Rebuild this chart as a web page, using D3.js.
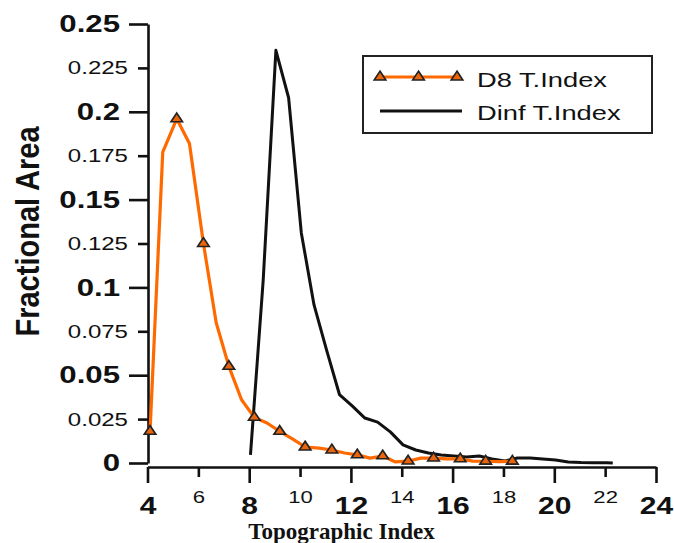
<!DOCTYPE html>
<html>
<head>
<meta charset="utf-8">
<script src="https://cdn.jsdelivr.net/npm/d3@7"></script>
<style>
body{margin:0;background:#fff}
svg{display:block}
</style>
</head>
<body>
<div id="chart-area"></div>
<script>

// D8 topographic index (orange, markers on every other point)
var d8X = [4.1,4.6,5.15,5.65,6.2,6.7,7.2,7.7,8.2,8.7,9.2,9.7,10.2,10.75,11.25,11.75,12.25,12.75,13.25,13.75,14.25,14.75,15.25,15.75,16.3,16.8,17.3,17.8,18.35];
var d8Y = [0.018,0.177,0.196,0.182,0.125,0.080,0.055,0.036,0.026,0.0228,0.018,0.0137,0.0091,0.0085,0.0074,0.0057,0.0046,0.0028,0.004,0.0006,0.0011,0.0028,0.0028,0.0023,0.0023,0.0011,0.001,0.0008,0.001];

// Dinf topographic index (black)
var dinfX = [8.05,8.55,9.05,9.55,10.05,10.55,11.05,11.55,12.05,12.55,13.05,13.55,14.05,14.55,15.05,15.55,16.05,16.55,17.05,17.55,18.05,18.55,19.05,19.55,20.05,20.55,21.05,21.55,22.05,22.3];
var dinfY = [0.0046,0.104,0.235,0.208,0.131,0.09,0.064,0.039,0.0325,0.0256,0.0233,0.0177,0.0103,0.0074,0.0057,0.0046,0.004,0.0034,0.004,0.0023,0.0011,0.0028,0.0028,0.0023,0.0017,0.0006,0.0003,0.0002,0.0001,0];

var xTicks = [4,6,8,10,12,14,16,18,20,22,24];
var xTickLabels = ['4','6','8','10','12','14','16','18','20','22','24'];
var yTicks = [0,0.025,0.05,0.075,0.1,0.125,0.15,0.175,0.2,0.225,0.25];
var yTickLabels = ['0','0.025','0.05','0.075','0.1','0.125','0.15','0.175','0.2','0.225','0.25'];

var seriesNames = ['D8 T.Index','Dinf T.Index'];

var svgWidth = 674;
var svgHeight = 543;
var sans = "'Liberation Sans', Arial, sans-serif";
var orange = '#ff6a00';

var svg = d3.select('#chart-area')
            .append('svg')
            .attr('width',svgWidth)
            .attr('height',svgHeight);

var x = d3.scaleLinear().domain([4,24]).range([147.5,656]);
var y = d3.scaleLinear().domain([0,0.25]).range([463,24]);

// Y axis
var yAxis = d3.axisLeft(y)
              .tickValues(yTicks)
              .tickSize(19)
              .tickSizeOuter(0)
              .tickFormat((d,i)=>yTickLabels[i]);

var gy = svg.append('g')
            .attr('transform','translate(148,0)')
            .call(yAxis);

gy.select('.domain').attr('stroke','#111').attr('stroke-width',2.6);
gy.selectAll('.tick line')
  .attr('stroke','#111')
  .attr('stroke-width',2.6)
  .attr('x2',(d,i)=> i%2 ? -10 : -19);
gy.selectAll('.tick text')
  .attr('x',0)
  .attr('fill','#111')
  .attr('transform',(d,i)=> i%2 ? 'translate(-20,0) scale(1.3,1)' : 'translate(-28,0) scale(1.3,1)')
  .style('font-family',sans)
  .style('font-size',(d,i)=> i%2 ? '18.5px' : '24px')
  .style('font-weight',(d,i)=> i%2 ? 'normal' : 'bold');

// X axis
var xAxis = d3.axisBottom(x)
              .tickValues(xTicks)
              .tickSize(16)
              .tickSizeOuter(0)
              .tickFormat((d,i)=>xTickLabels[i]);

var gx = svg.append('g')
            .attr('transform','translate(0,467)')
            .call(xAxis);

gx.select('.domain').attr('stroke','#111').attr('stroke-width',2.6);
gx.selectAll('.tick line')
  .attr('stroke','#111')
  .attr('stroke-width',2.6)
  .attr('y2',(d,i)=> i%2 ? 10 : 16);
gx.selectAll('.tick text')
  .attr('dy',0)
  .attr('y',(d,i)=> i%2 ? 36 : 47.5)
  .attr('fill','#111')
  .attr('transform',(d,i)=> i%2 ? 'scale(1.3,1)' : 'scale(1.25,1)')
  .style('font-family',sans)
  .style('font-size',(d,i)=> i%2 ? '17px' : '24px')
  .style('font-weight',(d,i)=> i%2 ? 'normal' : 'bold');

// axis titles
svg.append('text')
   .attr('transform','translate(39,231.5) scale(1.15,1) rotate(-90)')
   .attr('text-anchor','middle')
   .style('font-family',sans)
   .style('font-weight','bold')
   .style('font-size','29px')
   .attr('fill','#111')
   .text('Fractional Area');

svg.append('text')
   .attr('x',341.5)
   .attr('y',539)
   .attr('text-anchor','middle')
   .style('font-family',"'Liberation Serif', 'Times New Roman', serif")
   .style('font-weight','bold')
   .style('font-size','23px')
   .attr('fill','#111')
   .text('Topographic Index');

// lines
var d8Data = d8X.map((v,i)=>({x:v,y:d8Y[i]}));
var dinfData = dinfX.map((v,i)=>({x:v,y:dinfY[i]}));

var line = d3.line().x(d=>x(d.x)).y(d=>y(d.y));

svg.append('path')
   .datum(dinfData)
   .attr('d',line)
   .attr('fill','none')
   .attr('stroke','#111')
   .attr('stroke-width',3)
   .attr('stroke-linejoin','round');

svg.append('path')
   .datum(d8Data)
   .attr('d',line)
   .attr('fill','none')
   .attr('stroke',orange)
   .attr('stroke-width',3.2)
   .attr('stroke-linejoin','round');

var tri = d3.symbol().type(d3.symbolTriangle).size(48);

svg.selectAll('.marker')
   .data(d8Data.filter((d,i)=>i%2===0))
   .enter()
   .append('path')
   .attr('class','marker')
   .attr('d',tri)
   .attr('transform',d=>'translate('+x(d.x)+','+y(d.y)+') scale(1.1,0.95)')
   .attr('fill','#e8650c')
   .attr('stroke','#222')
   .attr('stroke-width',1.6);

// legend
var lg = svg.append('g');

lg.append('rect')
  .attr('x',363)
  .attr('y',56)
  .attr('width',289)
  .attr('height',77)
  .attr('fill','#fff')
  .attr('stroke','#222')
  .attr('stroke-width',2);

lg.append('line')
  .attr('x1',380).attr('x2',457)
  .attr('y1',77).attr('y2',77)
  .attr('stroke',orange)
  .attr('stroke-width',3);

lg.selectAll('.lgmark')
  .data([380,418.5,457])
  .enter()
  .append('path')
  .attr('class','lgmark')
  .attr('d',tri)
  .attr('transform',d=>'translate('+d+',77) scale(1.1,0.95)')
  .attr('fill','#e8650c')
  .attr('stroke','#222')
  .attr('stroke-width',1.6);

lg.append('line')
  .attr('x1',380).attr('x2',462)
  .attr('y1',111).attr('y2',111)
  .attr('stroke','#111')
  .attr('stroke-width',3);

lg.selectAll('.lgtext')
  .data(seriesNames)
  .enter()
  .append('text')
  .attr('class','lgtext')
  .attr('transform',(d,i)=>'translate(477,'+(i ? 120 : 86.5)+') scale(1.3,1)')
  .style('font-family',sans)
  .style('font-size','21px')
  .attr('fill','#111')
  .text(d=>d);

</script>
</body>
</html>
